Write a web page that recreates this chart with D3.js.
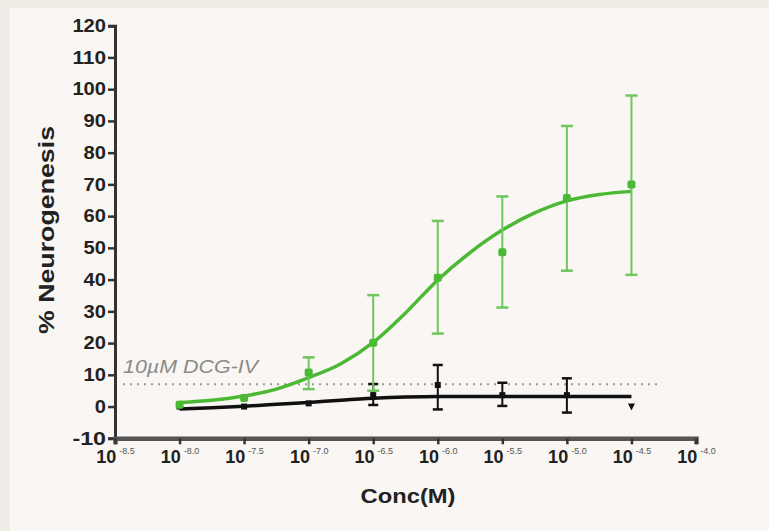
<!DOCTYPE html>
<html><head><meta charset="utf-8">
<script src="https://cdn.jsdelivr.net/npm/d3@7/dist/d3.min.js"></script>
<style>
html,body{margin:0;padding:0;background:#f0ece6;}
svg{display:block;}
text{font-family:"Liberation Sans",Arial,sans-serif;}
</style></head>
<body>
<svg id="chart" width="769" height="531"></svg>
<script>
// ---- data ----
const logConc = [-8.0, -7.5, -7.0, -6.5, -6.0, -5.5, -5.0, -4.5];
const greenMean = [0.6, 2.7, 10.7, 20.1, 40.6, 48.6, 65.7, 70.0];
const greenLow  = [0.0, 1.5, 5.5, 5.0, 23.0, 31.2, 42.8, 41.5];
const greenHigh = [1.5, 4.0, 15.5, 35.1, 58.5, 66.2, 88.4, 98.0];
const blackMean = [0.0, 0.0, 1.0, 3.6, 6.8, 3.6, 3.6, 0.0];
const blackLow  = [0.0, 0.0, 1.0, 0.5, -0.9, 0.2, -1.9, 0.0];
const blackHigh = [0.0, 0.0, 1.0, 7.1, 13.1, 7.5, 8.9, 0.0];
// fitted curves
const fitX = [-8.0, -7.75, -7.5, -7.25, -7.0, -6.75, -6.5, -6.25, -6.0, -5.75, -5.5, -5.25, -5.0, -4.75, -4.5];
const greenFit = [1.3, 2.0, 3.3, 5.5, 9.1, 13.5, 20.2, 29.5, 39.9, 48.5, 55.6, 61.0, 64.8, 66.8, 67.8];
const blackFit = [-0.8, -0.4, 0.1, 0.7, 1.3, 2.0, 2.6, 3.0, 3.2, 3.2, 3.2, 3.2, 3.2, 3.2, 3.2];
const refValue = 7;
const refLabel = "10\u00b5M DCG-IV";
const xTicks = [-8.5, -8.0, -7.5, -7.0, -6.5, -6.0, -5.5, -5.0, -4.5, -4.0];
const yTicks = [-10, 0, 10, 20, 30, 40, 50, 60, 70, 80, 90, 100, 110, 120];
const xTitle = "Conc(M)";
const yTitle = "% Neurogenesis";

// ---- drawing ----
const svg = d3.select("#chart");
svg.append("rect").attr("x", 10).attr("y", 8).attr("width", 759).attr("height", 523).attr("fill", "#f9f6f3");

const x = d3.scaleLinear().domain([-8.5, -4.0]).range([115, 696]);
const y = d3.scaleLinear().domain([-10, 120]).range([438.3, 25.7]);
const green = "#4cb935", greenLight = "#6fc65e", axisCol = "#333";

// axes
const yAxis = svg.append("g").attr("transform", `translate(${x(-8.5)},0)`)
  .call(d3.axisLeft(y).tickValues(yTicks).tickSize(7).tickPadding(2).tickFormat(d => String(d)));
yAxis.select(".domain").attr("stroke", axisCol).attr("stroke-width", 3);
yAxis.selectAll(".tick line").attr("stroke", axisCol).attr("stroke-width", 2.5);
yAxis.selectAll(".tick text").attr("fill", "#222").attr("font-size", 18).attr("font-weight", "bold")
  .attr("font-family", '"Liberation Sans",Arial,sans-serif')
  .attr("textLength", d => String(d).length * 11.2).attr("lengthAdjust", "spacingAndGlyphs");

const xAxis = svg.append("g").attr("transform", `translate(0,${y(-10)})`)
  .call(d3.axisBottom(x).tickValues(xTicks).tickSize(6).tickFormat(""));
xAxis.select(".domain").attr("stroke", "#555").attr("stroke-width", 4.5);
xAxis.selectAll(".tick line").attr("stroke", axisCol).attr("stroke-width", 2.5);
xAxis.selectAll(".tick").each(function(d) {
  const t = d3.select(this).append("text").attr("y", 25).attr("text-anchor", "middle")
    .attr("fill", "#222").attr("font-size", 18).attr("font-weight", "bold")
    .attr("font-family", '"Liberation Sans",Arial,sans-serif');
  t.append("tspan").text("10");
  t.append("tspan").attr("dy", -9).attr("dx", 3).attr("font-size", 9).attr("font-weight", "normal").attr("fill", "#555").text(d.toFixed(1));
});

// titles
svg.append("text").attr("x", 408).attr("y", 503).attr("text-anchor", "middle")
  .attr("font-size", 21).attr("font-weight", "bold").attr("fill", "#222")
  .attr("textLength", 95).attr("lengthAdjust", "spacingAndGlyphs").text(xTitle);
svg.append("text").attr("transform", "translate(54,230) rotate(-90)").attr("text-anchor", "middle")
  .attr("font-size", 22).attr("font-weight", "bold").attr("fill", "#222")
  .attr("textLength", 208).attr("lengthAdjust", "spacingAndGlyphs").text(yTitle);

// reference line
svg.append("line").attr("x1", 123).attr("x2", 662).attr("y1", y(refValue)).attr("y2", y(refValue))
  .attr("stroke", "#9a9a9a").attr("stroke-width", 2).attr("stroke-dasharray", "2,5");
svg.append("text").attr("x", 123).attr("y", 373).attr("font-size", 18).attr("font-style", "italic")
  .attr("fill", "#8a8a8a").attr("textLength", 135).attr("lengthAdjust", "spacingAndGlyphs").text(refLabel);

const line = d3.line().x((d, i) => x(fitX[i])).y(d => y(d)).curve(d3.curveMonotoneX);

// black series
svg.append("path").datum(blackFit).attr("d", line).attr("fill", "none").attr("stroke", "#111").attr("stroke-width", 3.5);
const bg = svg.append("g");
logConc.forEach((c, i) => {
  if (blackHigh[i] - blackLow[i] > 0.5) {
    bg.append("line").attr("x1", x(c)).attr("x2", x(c)).attr("y1", y(blackLow[i])).attr("y2", y(blackHigh[i])).attr("stroke", "#111").attr("stroke-width", 2);
    [blackLow[i], blackHigh[i]].forEach(v => bg.append("line").attr("x1", x(c) - 5).attr("x2", x(c) + 5).attr("y1", y(v)).attr("y2", y(v)).attr("stroke", "#111").attr("stroke-width", 2.5));
  }
  if (i === logConc.length - 1) {
    const cx = x(c), cy = y(blackMean[i]);
    bg.append("path").attr("d", `M${cx - 3.5},${cy - 3}L${cx + 3.5},${cy - 3}L${cx},${cy + 4}Z`).attr("fill", "#111");
  } else {
    bg.append("rect").attr("x", x(c) - 3).attr("y", y(blackMean[i]) - 3).attr("width", 6).attr("height", 6).attr("fill", "#111");
  }
});

// green series
svg.append("path").datum(greenFit).attr("d", line).attr("fill", "none").attr("stroke", green).attr("stroke-width", 3.5);
const gg = svg.append("g");
logConc.forEach((c, i) => {
  if (greenHigh[i] - greenLow[i] > 3) {
    gg.append("line").attr("x1", x(c)).attr("x2", x(c)).attr("y1", y(greenLow[i])).attr("y2", y(greenHigh[i])).attr("stroke", greenLight).attr("stroke-width", 2);
    [greenLow[i], greenHigh[i]].forEach(v => gg.append("line").attr("x1", x(c) - 6).attr("x2", x(c) + 6).attr("y1", y(v)).attr("y2", y(v)).attr("stroke", greenLight).attr("stroke-width", 2.5));
  }
  gg.append("rect").attr("x", x(c) - 4).attr("y", y(greenMean[i]) - 4).attr("width", 8).attr("height", 8).attr("rx", 2).attr("fill", green);
});
</script>
</body></html>
